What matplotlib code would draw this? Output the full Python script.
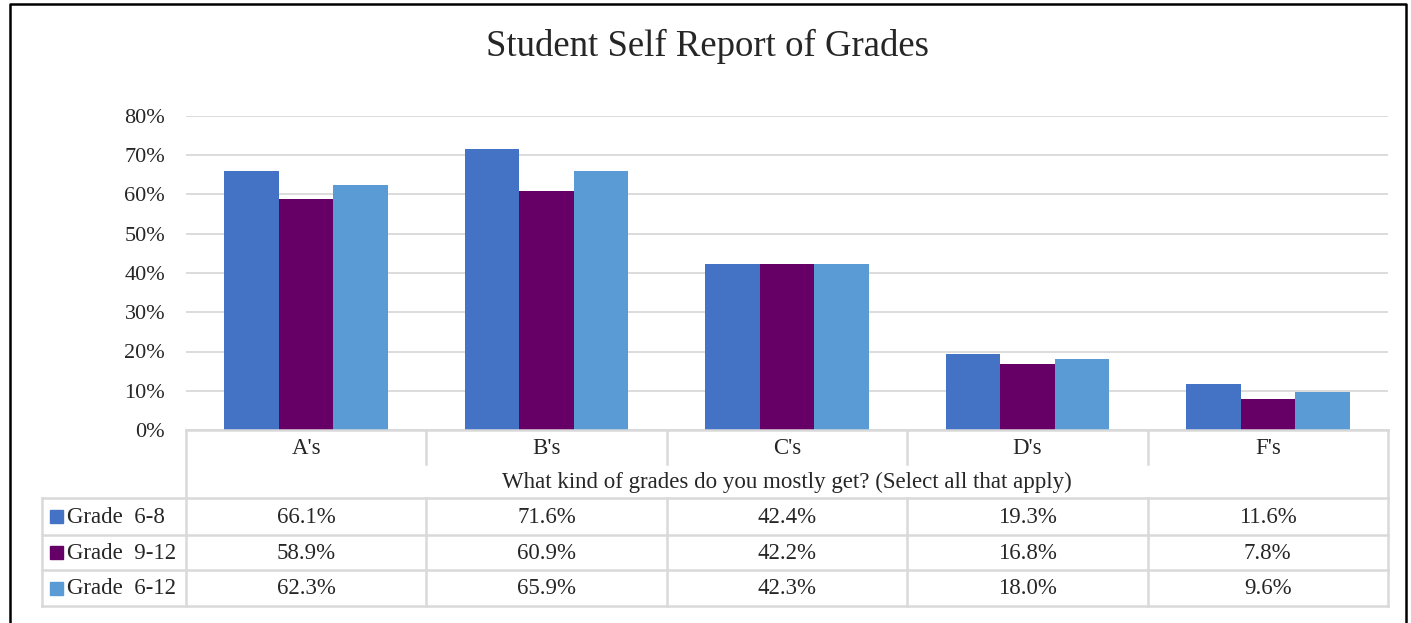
import matplotlib
matplotlib.use('Agg')
import matplotlib.pyplot as plt
import matplotlib.transforms as mtransforms
from matplotlib.ticker import FuncFormatter

# ── DATA ──────────────────────────────────────────────────────
categories = ["A's", "B's", "C's", "D's", "F's"]
series_names = ["Grade  6-8", "Grade  9-12", "Grade  6-12"]
grade_6_8 = [66.1, 71.6, 42.4, 19.3, 11.6]
grade_9_12 = [58.9, 60.9, 42.2, 16.8, 7.8]
grade_6_12 = [62.3, 65.9, 42.3, 18.0, 9.6]
y_ticks = [0, 10, 20, 30, 40, 50, 60, 70, 80]

TITLE = "Student Self Report of Grades"
X_TITLE = "What kind of grades do you mostly get? (Select all that apply)"
COLORS = ['#4472C4', '#660066', '#5B9BD5']
GRID = '#D9D9D9'
FONT = 'Liberation Serif'
TXT = '#262626'
FS = 16.5

plt.rcParams['font.family'] = FONT

W, H = 1411, 623
fig = plt.figure(figsize=(W / 100, H / 100), dpi=100)

# plot area (pixel box)
px_l, px_r, px_top, px_bot = 186, 1388, 116, 430
ax = fig.add_axes([px_l / W, (H - px_bot) / H, (px_r - px_l) / W, (px_bot - px_top) / H])

series = [grade_6_8, grade_9_12, grade_6_12]
bw = 0.227
for j, vals in enumerate(series):
    xs = [i + (j - 1) * bw for i in range(len(categories))]
    ax.bar(xs, vals, width=bw, color=COLORS[j], zorder=3)

ax.set_xlim(-0.5, len(categories) - 0.5)
ax.set_ylim(0, 80)
ax.set_yticks(y_ticks)
ax.yaxis.set_major_formatter(FuncFormatter(lambda v, p: f"{v:.0f}%"))
ax.tick_params(axis='y', length=0, pad=15, labelsize=16, labelcolor=TXT)
ax.set_xticks([])
ax.grid(axis='y', color=GRID, lw=1.3, zorder=0)
for s in ax.spines.values():
    s.set_visible(False)

# overlay in pixel coordinates for title, table, border
ov = fig.add_axes([0, 0, 1, 1], zorder=5)
ov.set_xlim(0, W)
ov.set_ylim(H, 0)
ov.axis('off')
ov.patch.set_alpha(0)

# x from bar axes data, y in pixels
tr = mtransforms.blended_transform_factory(ax.transData, ov.transData)

ov.text(707, 46, TITLE, ha='center', va='center', fontsize=26.5, color=TXT)

# chart border
ov.plot([9.5, 9.5, 1406, 1406], [H, 4, 4, H], color='black', lw=1.8, solid_capstyle='butt')

# table geometry (pixels)
row_cat_top, row_cat_sep = 430, 464
row_edges = [498, 535, 570, 606]
leg_left = 42
tlw = 1.8
n = len(categories)

# table lines
ov.plot([px_l, px_r], [row_cat_top, row_cat_top], color=GRID, lw=tlw)
for y in row_edges:
    ov.plot([leg_left, px_r], [y, y], color=GRID, lw=tlw)
ov.plot([px_l, px_l], [row_cat_top, row_edges[-1]], color=GRID, lw=tlw)
ov.plot([px_r, px_r], [row_cat_top, row_edges[-1]], color=GRID, lw=tlw)
ov.plot([leg_left, leg_left], [row_edges[0], row_edges[-1]], color=GRID, lw=tlw)
for i in range(n - 1):
    ov.plot([i + 0.5, i + 0.5], [row_cat_top, row_cat_sep], color=GRID, lw=tlw, transform=tr)
    ov.plot([i + 0.5, i + 0.5], [row_edges[0], row_edges[-1]], color=GRID, lw=tlw, transform=tr)

# category labels
for i, c in enumerate(categories):
    ov.text(i, 448, c, ha='center', va='center', fontsize=FS, color=TXT, transform=tr)

ov.text((n - 1) / 2, 482, X_TITLE, ha='center', va='center',
        fontsize=FS, color=TXT, transform=tr)

# data rows
for j, vals in enumerate(series):
    yc = (row_edges[j] + row_edges[j + 1]) / 2
    ov.add_patch(plt.Rectangle((50, yc - 6.5), 13, 13, color=COLORS[j]))
    ov.text(67, yc + 1, series_names[j], ha='left', va='center', fontsize=FS, color=TXT)
    for i, v in enumerate(vals):
        ov.text(i, yc + 1, f"{v:.1f}%", ha='center', va='center', fontsize=FS,
                color=TXT, transform=tr)

plt.savefig('out.png', dpi=100)
